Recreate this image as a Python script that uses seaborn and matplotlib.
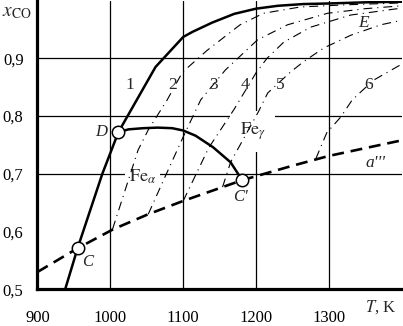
import matplotlib
matplotlib.use("Agg")
import matplotlib.pyplot as plt
import seaborn as sns
import pandas as pd

# curve 1 (solid, thick)
c1_T = [938, 955, 989, 1011, 1062, 1100, 1113, 1140, 1170, 1200, 1230, 1265, 1300, 1350, 1400]
c1_x = [0.500, 0.571, 0.700, 0.772, 0.885, 0.937, 0.946, 0.962, 0.977, 0.986, 0.991, 0.994, 0.995, 0.997, 0.998]

# D - C' boundary arc
arc_T = [1011, 1025, 1045, 1065, 1085, 1100, 1117, 1141, 1165, 1181]
arc_x = [0.772, 0.777, 0.779, 0.780, 0.779, 0.775, 0.766, 0.746, 0.720, 0.689]

# a''' line (dashed)
a_T = [900, 955, 1004, 1052, 1100, 1181, 1250, 1300, 1400]
a_x = [0.530, 0.571, 0.604, 0.630, 0.653, 0.689, 0.714, 0.731, 0.758]

# dash-dot curves 2..6
c2_T = [1003, 1038, 1052, 1078, 1099, 1133, 1178, 1210, 1261, 1330, 1400]
c2_x = [0.604, 0.741, 0.776, 0.828, 0.876, 0.914, 0.958, 0.978, 0.989, 0.993, 0.996]
c3_T = [1052, 1073, 1100, 1124, 1158, 1202, 1243, 1298, 1350, 1400]
c3_x = [0.630, 0.689, 0.764, 0.828, 0.880, 0.932, 0.958, 0.978, 0.986, 0.991]
c4_T = [1100, 1135, 1170, 1200, 1215, 1238, 1275, 1330, 1400]
c4_x = [0.653, 0.745, 0.812, 0.875, 0.900, 0.928, 0.954, 0.975, 0.987]
c5_T = [1154, 1165, 1203, 1216, 1247, 1265, 1293, 1330, 1371, 1400]
c5_x = [0.677, 0.720, 0.807, 0.840, 0.876, 0.894, 0.918, 0.940, 0.958, 0.966]
c6_T = [1282, 1297, 1316, 1332, 1361, 1400]
c6_x = [0.726, 0.771, 0.798, 0.828, 0.862, 0.890]

# special points C, D, C'
pt_T = [955, 1011, 1181]
pt_x = [0.571, 0.772, 0.689]

x_ticks = [900, 1000, 1100, 1200, 1300]
y_ticks = [0.5, 0.6, 0.7, 0.8, 0.9]
y_tick_labels = ["0,5", "0,6", "0,7", "0,8", "0,9"]

curve_labels = ["1", "2", "3", "4", "5", "6"]
curve_label_T = [1027, 1086, 1141, 1185, 1233, 1354]


def main():
	sns.set_theme(style="white")
	plt.rcParams["font.family"] = ["Liberation Serif", "DejaVu Serif"]
	plt.rcParams["mathtext.fontset"] = "stix"

	fig = plt.figure(figsize=(4.03, 3.26), dpi=100)
	ax = fig.add_axes([0.093, 0.1126, 0.904, 0.8856])

	for t in [1000, 1100, 1200, 1300]:
		ax.axvline(t, color="black", lw=0.9, zorder=1)
	for v in [0.7, 0.8, 0.9]:
		ax.axhline(v, color="black", lw=0.9, zorder=1)

	dashdot = (0, (8, 4.5, 1, 4.5))
	for T, X in [(c2_T, c2_x), (c3_T, c3_x), (c4_T, c4_x), (c5_T, c5_x), (c6_T, c6_x)]:
		sns.lineplot(x=T, y=X, ax=ax, sort=False, estimator=None, color="black",
			lw=0.8, linestyle=dashdot, zorder=2)

	sns.lineplot(x=a_T, y=a_x, ax=ax, sort=False, estimator=None, color="black",
		lw=1.9, linestyle=(0, (4.5, 2.6)), zorder=3)
	sns.lineplot(x=c1_T, y=c1_x, ax=ax, sort=False, estimator=None, color="black",
		lw=1.8, zorder=3)
	sns.lineplot(x=arc_T, y=arc_x, ax=ax, sort=False, estimator=None, color="black",
		lw=1.8, zorder=3)

	pts = pd.DataFrame({"T": pt_T, "x": pt_x})
	sns.scatterplot(data=pts, x="T", y="x", ax=ax, s=80, facecolor="white",
		edgecolor="black", linewidth=1.1, zorder=5)

	for lab, t in zip(curve_labels, curve_label_T):
		ax.text(t, 0.854, lab, fontsize=12.5, ha="center", va="center", zorder=6)

	ax.text(1347, 0.961, "E", fontsize=12.5, style="italic", ha="center", va="center", zorder=6)
	ax.text(988, 0.772, "D", fontsize=12, style="italic", ha="center", va="center", zorder=6)
	ax.text(969, 0.547, "C", fontsize=12, style="italic", ha="center", va="center", zorder=6)
	ax.text(1178, 0.660, "C'", fontsize=12, style="italic", ha="center", va="center", zorder=6)
	ax.text(1364, 0.719, "a'''", fontsize=12.5, style="italic", ha="center", va="center", zorder=6)
	# white boxes only break the grid, not the curves
	ax.text(1044, 0.694, r"$\mathrm{Fe}_{\alpha}$", fontsize=13, ha="center", va="center",
		bbox=dict(facecolor="white", edgecolor="none", pad=3), zorder=1.5)
	ax.text(1195, 0.774, r"$\mathrm{Fe}_{\gamma}$", fontsize=13, ha="center", va="center",
		bbox=dict(facecolor="white", edgecolor="none", pad=7), zorder=1.5)

	ax.set_xlim(900, 1400)
	ax.set_ylim(0.5, 1.0)
	ax.set_xticks(x_ticks)
	ax.set_yticks(y_ticks)
	ax.set_yticklabels(y_tick_labels)
	ax.set_xlabel("")
	ax.set_ylabel("")
	ax.tick_params(axis="x", length=0, pad=15, labelsize=12)
	ax.tick_params(axis="y", length=0, pad=10, labelsize=12)
	for lbl in ax.get_xticklabels() + ax.get_yticklabels():
		lbl.set_color("black")

	sns.despine(ax=ax)
	for side in ["left", "bottom"]:
		ax.spines[side].set_linewidth(2.3)
		ax.spines[side].set_color("black")

	fig.text(0.945, 0.057, r"$T$, K", fontsize=12, ha="center", va="center")
	fig.text(0.005, 0.963, r"$x_{\mathrm{CO}}$", fontsize=14, ha="left", va="center")

	fig.savefig("out.png", dpi=100)
	plt.close(fig)


if __name__ == "__main__":
	main()
